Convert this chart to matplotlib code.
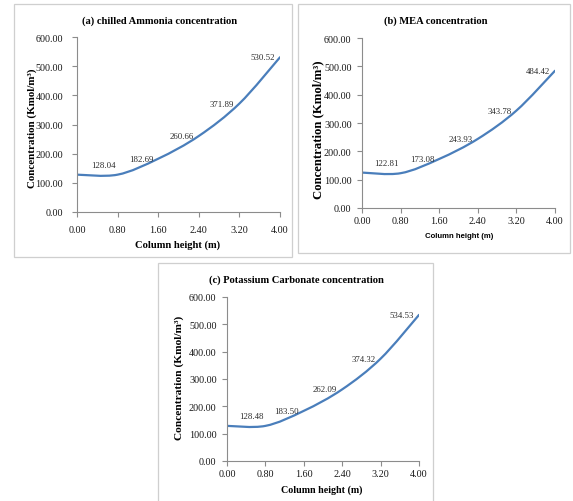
import numpy as np

import matplotlib
matplotlib.use('Agg')
import matplotlib.pyplot as plt
from matplotlib.path import Path
from matplotlib.patches import PathPatch, Rectangle
from matplotlib.ticker import FormatStrFormatter


# column height (m) at which concentrations were computed
heights = [0.0, 0.8, 1.6, 2.4, 3.2, 4.0]

# concentrations (Kmol/m3); first value (x=0) read off the curve, not labelled
ammonia = [128.0, 128.04, 182.69, 260.66, 371.89, 530.52]
mea = [125.0, 122.81, 173.08, 243.93, 343.78, 484.42]
potassium = [128.5, 128.48, 183.50, 262.09, 374.32, 534.53]

titles = [
    '(a) chilled Ammonia concentration',
    '(b) MEA concentration',
    '(c) Potassium Carbonate concentration',
]
xticks = [0.0, 0.8, 1.6, 2.4, 3.2, 4.0]
yticks = [0, 100, 200, 300, 400, 500, 600]
xlabel = 'Column height (m)'
ylabel = 'Concentration (Kmol/m³)'

W, H = 573, 502
SERIF = ['Liberation Serif', 'DejaVu Serif']
LINE = '#4a7ebb'
AXIS = '#8c8c8c'


def fx(px):
    return px / W


def fy(py):
    return 1 - py / H


def smooth_path(xs, ys):
    """Excel-like smoothed line as cubic Bezier segments."""
    pts = np.column_stack([xs, ys])
    n = len(pts)
    verts = [pts[0]]
    codes = [Path.MOVETO]
    for i in range(n - 1):
        p_prev = pts[max(i - 1, 0)]
        p0, p1 = pts[i], pts[i + 1]
        p_next = pts[min(i + 2, n - 1)]
        c1 = p0 + (p1 - p_prev) / 6
        c2 = p1 - (p_next - p0) / 6
        verts += [c1, c2, p1]
        codes += [Path.CURVE4] * 3
    return Path(verts, codes)


def panel(fig, box, rect, title, title_xy, ys, ylab_xy, ylab_size,
          xlab_xy, xpad, ypad, xlabel_font):
    """
    Draw one panel.

    :param box: (left, top, right, bottom) of the frame in pixels
    :param rect: (left, top, right, bottom) of the plot area in pixels
    """
    l, t, r, b = box
    fig.add_artist(Rectangle((fx(l), fy(b)), fx(r - l), (b - t) / H,
                             transform=fig.transFigure, fill=False,
                             edgecolor='#cfcfcf', linewidth=0.9))

    al, at, ar, ab = rect
    ax = fig.add_axes([fx(al), fy(ab), fx(ar - al), (ab - at) / H])
    ax.set_xlim(0, 4)
    ax.set_ylim(0, 600)
    ax.set_xticks(xticks)
    ax.set_yticks(yticks)
    ax.xaxis.set_major_formatter(FormatStrFormatter('%.2f'))
    ax.yaxis.set_major_formatter(FormatStrFormatter('%.2f'))
    for side in ['top', 'right']:
        ax.spines[side].set_visible(False)
    for side in ['left', 'bottom']:
        ax.spines[side].set_color(AXIS)
        ax.spines[side].set_linewidth(0.8)
    ax.tick_params(axis='both', direction='out', length=3.5, width=0.8,
                   color=AXIS, labelsize=7.3, labelcolor='#1a1a1a')
    ax.tick_params(axis='x', pad=xpad)
    ax.tick_params(axis='y', pad=ypad)
    for lab in ax.get_xticklabels() + ax.get_yticklabels():
        lab.set_family(SERIF)

    ax.add_patch(PathPatch(smooth_path(heights, ys), fill=False,
                           edgecolor=LINE, linewidth=1.6,
                           capstyle='round', transform=ax.transData))

    for i, (x, y) in enumerate(zip(heights[1:], ys[1:])):
        dx, dy = (-2, 10) if i == 0 else (-5, 0)
        ax.annotate(f'{y:.2f}', (x, y), xytext=(dx, dy),
                    textcoords='offset pixels', ha='right', va='center',
                    fontsize=6.3, family=SERIF, color='#2a2a2a')

    fig.text(fx(title_xy[0]), fy(title_xy[1]), title, ha='center',
             va='center', fontsize=7.6, fontweight='bold', family=SERIF)
    fig.text(fx(ylab_xy[0]), fy(ylab_xy[1]), ylabel, ha='center',
             va='center', rotation=90, fontsize=ylab_size, fontweight='bold',
             family=SERIF)
    fig.text(fx(xlab_xy[0]), fy(xlab_xy[1]), xlabel, ha='center',
             va='center', **xlabel_font)
    return ax


fig = plt.figure(figsize=(W / 100, H / 100), dpi=100)
fig.patch.set_facecolor('white')

sans = ['Liberation Sans', 'DejaVu Sans']

panel(fig, (14, 5, 292, 258), (77, 38, 280, 213), titles[0], (160, 21),
      ammonia, (32, 128), 7.9, (178, 245), 6, 6.5,
      dict(fontsize=7.6, fontweight='bold', family=SERIF))
panel(fig, (298, 5, 570, 254), (362, 39, 555, 209), titles[1], (436, 21),
      mea, (318, 130), 9.2, (459, 237), 2.5, 4,
      dict(fontsize=5.6, fontweight='bold', family=sans))
panel(fig, (158, 264, 433, 510), (227, 298, 419, 462), titles[2], (296, 280),
      potassium, (179, 378), 8.2, (322, 490), 2, 4,
      dict(fontsize=7.2, fontweight='bold', family=SERIF))

fig.savefig('out.png', dpi=100)
